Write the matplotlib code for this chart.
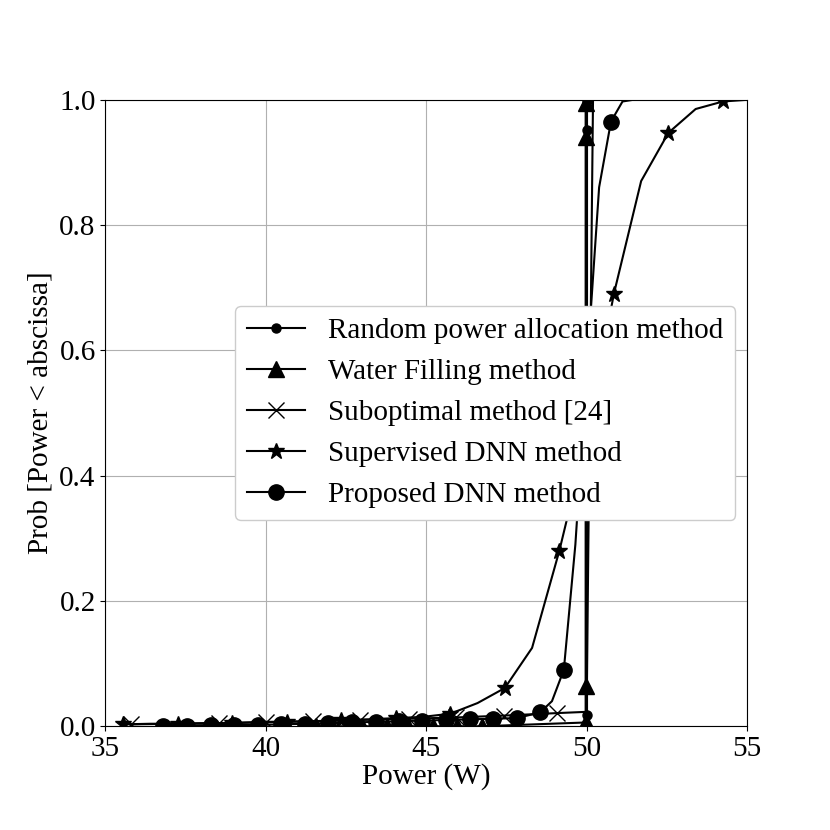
import numpy as np
import matplotlib
matplotlib.use("Agg")
import matplotlib.pyplot as plt

plt.rcParams['font.family'] = ['Liberation Serif', 'DejaVu Serif']
plt.rcParams['font.size'] = 21

# Random power allocation method
rand_x = [50.0, 50.0, 50.0, 50.0, 50.0]
rand_y = [0.0, 0.018, 0.952, 0.998, 1.0]
rand_marks = [1, 2, 3]

# Water Filling method
wf_x = [41.55, 43.0, 43.78, 44.44, 45.22, 45.96, 46.73, 49.97, 49.97, 49.97, 49.97, 49.97]
wf_y = [0.0, 0.0, 0.0, 0.0, 0.0, 0.0, 0.0, 0.006, 0.065, 0.941, 0.994, 1.0]
wf_marks = [0, 1, 2, 3, 4, 5, 6, 7, 8, 9, 10]

# Suboptimal method [24]
sub_x = [35.80, 38.55, 40.00, 41.47, 42.95, 44.45, 45.92, 47.42, 49.08, 50.0, 50.2, 55.0]
sub_y = [0.003, 0.005, 0.007, 0.008, 0.010, 0.012, 0.014, 0.017, 0.021, 0.023, 1.0, 1.0]
sub_marks = [0, 1, 2, 3, 4, 5, 6, 7, 8]

# Supervised DNN method
sup_x = [35.55, 36.40, 37.25, 38.10, 38.95, 39.80, 40.65, 41.50, 42.35, 43.20, 44.05, 44.90,
         45.75, 46.60, 47.45, 48.30, 49.15, 50.00, 50.85, 51.70, 52.55, 53.40, 54.25, 55.10]
sup_y = [0.003, 0.004, 0.004, 0.005, 0.005, 0.006, 0.007, 0.008, 0.010, 0.011, 0.013, 0.015,
         0.020, 0.037, 0.061, 0.125, 0.280, 0.460, 0.690, 0.870, 0.947, 0.985, 0.997, 1.0]

# Proposed DNN method
prop_x = [36.81, 37.55, 38.28, 39.01, 39.75, 40.48, 41.21, 41.95, 42.68, 43.42, 44.15, 44.88,
          45.62, 46.35, 47.08, 47.82, 48.55, 48.92, 49.29, 49.65, 50.02, 50.39, 50.76, 51.12, 51.49]
prop_y = [0.001, 0.001, 0.002, 0.002, 0.002, 0.003, 0.004, 0.005, 0.006, 0.007, 0.008, 0.009,
          0.010, 0.011, 0.012, 0.013, 0.022, 0.040, 0.090, 0.290, 0.580, 0.860, 0.965, 0.997, 1.0]
prop_marks = list(range(17)) + [18, 20, 22]

fig, ax = plt.subplots(figsize=(8.3, 8.3), dpi=100)
fig.subplots_adjust(left=0.127, right=0.9, top=0.88, bottom=0.125)

ax.plot(rand_x, rand_y, color='black', lw=1.5, marker='.', ms=13, markevery=rand_marks,
        label='Random power allocation method')
ax.plot(wf_x, wf_y, color='black', lw=1.5, marker='^', ms=11, markevery=wf_marks,
        label='Water Filling method')
ax.plot(sub_x, sub_y, color='black', lw=1.5, marker='x', ms=12, mew=1.0, markevery=sub_marks,
        label='Suboptimal method [24]')
ax.plot(sup_x, sup_y, color='black', lw=1.5, marker='*', ms=12, markevery=2,
        label='Supervised DNN method')
ax.plot(prop_x, prop_y, color='black', lw=1.5, marker='o', ms=11, markevery=prop_marks,
        label='Proposed DNN method')

ax.set_xlim(35, 55)
ax.set_ylim(0, 1.0)
ax.set_xticks([35, 40, 45, 50, 55])
ax.set_yticks([0.0, 0.2, 0.4, 0.6, 0.8, 1.0])
ax.set_yticklabels(['0.0', '0.2', '0.4', '0.6', '0.8', '1.0'])
ax.grid(True, color='#b0b0b0', lw=0.8)
ax.set_xlabel('Power (W)', labelpad=1)
ax.set_ylabel('Prob [Power < abscissa]')

leg = ax.legend(loc='center', bbox_to_anchor=(0.592, 0.5), framealpha=1.0)

fig.savefig('out.png', dpi=100)
